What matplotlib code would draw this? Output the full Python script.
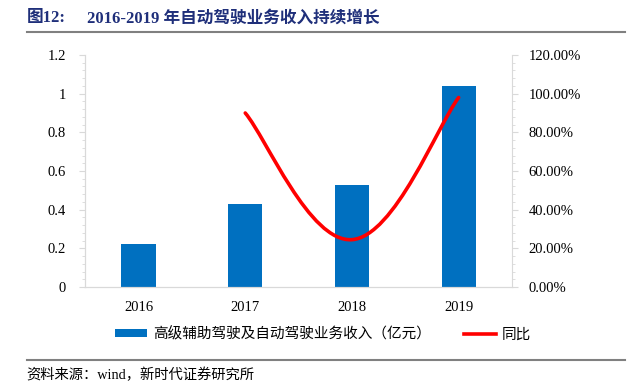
import matplotlib
matplotlib.use("Agg")
import matplotlib.pyplot as plt
from matplotlib.path import Path
from matplotlib.patches import PathPatch, Patch
from matplotlib.lines import Line2D
from matplotlib.ticker import MultipleLocator, FuncFormatter

plt.rcParams['font.family'] = ['Liberation Serif', 'Noto Sans CJK SC', 'DejaVu Sans']

# data
years = ['2016', '2017', '2018', '2019']
revenue = [0.22, 0.43, 0.53, 1.04]          # 亿元
yoy_years = [1, 2, 3]                        # index positions of 2017..2019
yoy = [0.90, 0.245, 0.98]

title_num = '图12:'
title_txt = '2016-2019 年自动驾驶业务收入持续增长'
bar_label = '高级辅助驾驶及自动驾驶业务收入（亿元）'
line_label = '同比'
source = '资料来源：wind，新时代证券研究所'

blue = '#0070C0'
red = '#FF0000'
grid_c = '#D9D9D9'
title_c = '#1F2F7A'

fig = plt.figure(figsize=(6.36, 3.9), dpi=100)
ax = fig.add_axes([0.134, 0.264, 0.671, 0.595])
ax2 = ax.twinx()

x = list(range(len(years)))
ax.bar(x, revenue, width=0.32, color=blue, zorder=2)
ax.set_xlim(-0.5, len(years) - 0.5)
ax.set_ylim(0, 1.2)
ax.yaxis.set_major_locator(MultipleLocator(0.2))
ax.yaxis.set_minor_locator(MultipleLocator(0.04))
ax.yaxis.set_major_formatter(FuncFormatter(lambda v, p: '0' if abs(v) < 1e-9 else ('1' if abs(v - 1) < 1e-9 else f'{v:.1f}')))
ax.set_xticks(x)
ax.set_xticklabels(years)

# smoothed yoy line (Catmull-Rom style bezier)
k = 1 / 5
pts = list(zip(yoy_years, yoy))
verts = [pts[0]]
codes = [Path.MOVETO]
for i in range(len(pts) - 1):
    p0 = pts[i - 1] if i > 0 else pts[i]
    p1 = pts[i]
    p2 = pts[i + 1]
    p3 = pts[i + 2] if i + 2 < len(pts) else pts[i + 1]
    c1 = (p1[0] + (p2[0] - p0[0]) * k, p1[1] + (p2[1] - p0[1]) * k)
    c2 = (p2[0] - (p3[0] - p1[0]) * k, p2[1] - (p3[1] - p1[1]) * k)
    verts += [c1, c2, p2]
    codes += [Path.CURVE4] * 3
ax2.add_patch(PathPatch(Path(verts, codes), fill=False, edgecolor=red, lw=2.6,
                        capstyle='round', zorder=3))
ax2.set_ylim(0, 1.2)
ax2.yaxis.set_major_locator(MultipleLocator(0.2))
ax2.yaxis.set_minor_locator(MultipleLocator(0.04))
ax2.yaxis.set_major_formatter(FuncFormatter(lambda v, p: f'{v * 100:.2f}%'))

for a in (ax, ax2):
    for s in a.spines.values():
        s.set_color(grid_c)
        s.set_linewidth(0.8)
    a.spines['top'].set_visible(False)
    a.tick_params(axis='both', which='both', color=grid_c, labelsize=10.5, labelcolor='black')
    a.tick_params(axis='y', which='major', length=4)
    a.tick_params(axis='y', which='minor', length=2.5)
ax.tick_params(axis='x', length=0, pad=10)
ax.tick_params(axis='y', pad=10)
ax2.tick_params(axis='y', pad=8)
ax.spines['right'].set_visible(False)

handles = [Patch(facecolor=blue, edgecolor='none'),
           Line2D([0], [0], color=red, lw=2.6)]
fig.legend(handles, [bar_label, line_label], loc='center', bbox_to_anchor=(0.508, 0.143),
           ncol=2, frameon=False, fontsize=10.5, handlelength=2.2, handleheight=0.45,
           columnspacing=2.3, handletextpad=0.4)

# title and source
fig.text(0.042, 0.953, title_num, fontsize=12, fontweight='bold', color=title_c, va='center')
fig.text(0.137, 0.953, title_txt, fontsize=12, fontweight='bold', color=title_c, va='center')
fig.add_artist(Line2D([0.042, 0.983], [0.918, 0.918], color='#808080', lw=1.5))
fig.add_artist(Line2D([0.042, 0.983], [0.077, 0.077], color='#808080', lw=1.5))
fig.text(0.042, 0.038, source, fontsize=10.3, color='black', va='center')

fig.savefig('out.png', dpi=100)
